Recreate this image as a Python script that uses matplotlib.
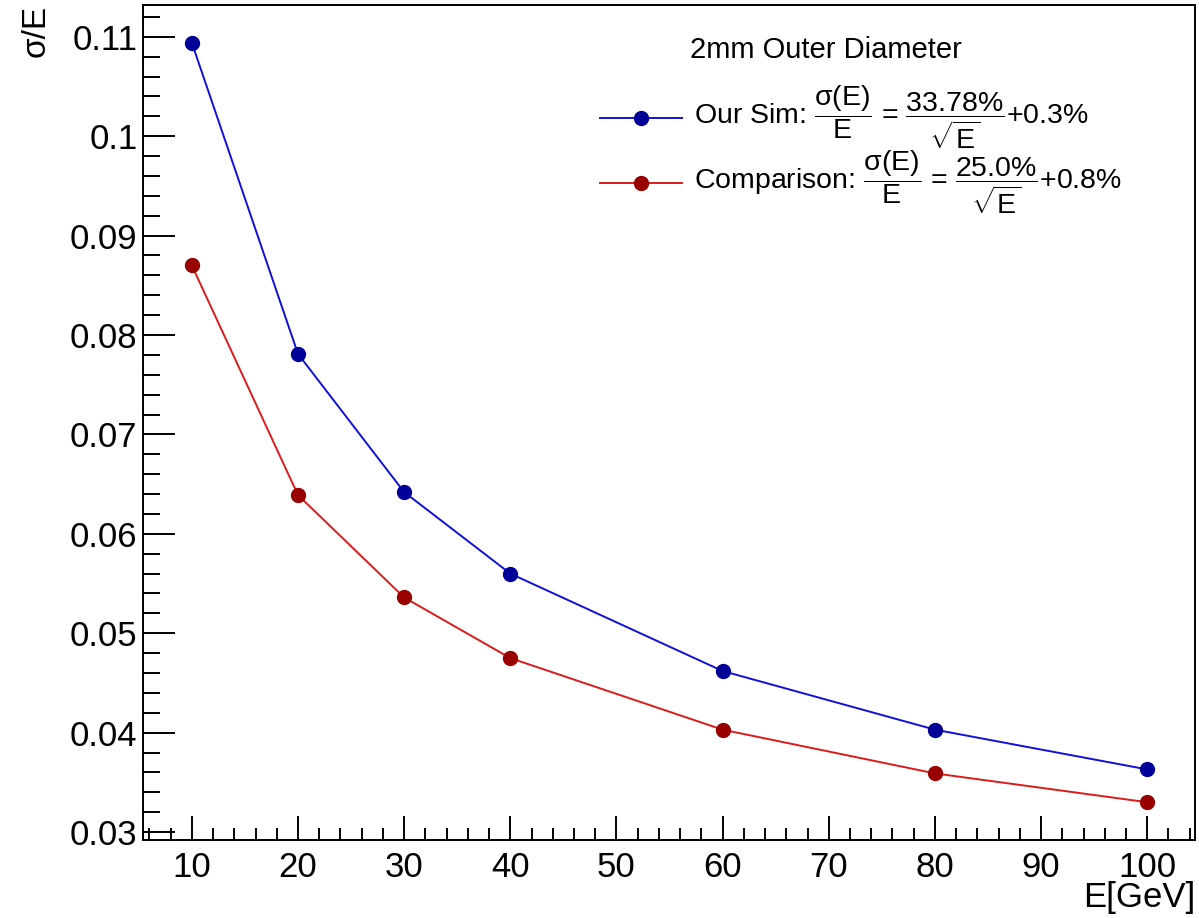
import matplotlib
matplotlib.use("Agg")
import matplotlib.pyplot as plt
from matplotlib.lines import Line2D
from matplotlib.ticker import MultipleLocator, FormatStrFormatter

# energies (GeV) and relative resolution sigma/E
energy = [10, 20, 30, 40, 60, 80, 100]
sim_res = [0.1094, 0.0781, 0.0642, 0.0560, 0.0462, 0.0403, 0.0363]
cmp_res = [0.0870, 0.0639, 0.0536, 0.0475, 0.0403, 0.0359, 0.0330]

legend_title = "2mm Outer Diameter"
sim_label = r"Our Sim: $\dfrac{\sigma(\mathrm{E})}{\mathrm{E}}$ = $\dfrac{\mathrm{33.78\%}}{\sqrt{\mathrm{E}}}$+0.3%"
cmp_label = r"Comparison: $\dfrac{\sigma(\mathrm{E})}{\mathrm{E}}$ = $\dfrac{\mathrm{25.0\%}}{\sqrt{\mathrm{E}}}$+0.8%"

plt.rcParams['font.family'] = ['Liberation Sans', 'DejaVu Sans']
plt.rcParams['mathtext.fontset'] = 'custom'
plt.rcParams['mathtext.rm'] = 'Liberation Sans'
plt.rcParams['mathtext.it'] = 'Liberation Sans'
plt.rcParams['mathtext.sf'] = 'Liberation Sans'

W, H = 1199, 918
fig = plt.figure(figsize=(W / 100, H / 100), dpi=100)
ax = fig.add_axes([143 / W, (H - 840) / H, (1195 - 143) / W, (840 - 5) / H])

blue_line, blue_mark = '#1010dd', '#000099'
red_line, red_mark = '#dd1a1a', '#990000'

ax.plot(energy, sim_res, color=blue_line, lw=1.4, marker='o', ms=10,
        mfc=blue_mark, mec=blue_mark)
ax.plot(energy, cmp_res, color=red_line, lw=1.4, marker='o', ms=10,
        mfc=red_mark, mec=red_mark)

ax.set_xlim(5.4, 104.5)
ax.set_ylim(0.0292, 0.1132)

ax.xaxis.set_major_locator(MultipleLocator(10))
ax.xaxis.set_minor_locator(MultipleLocator(2))
ax.yaxis.set_major_locator(MultipleLocator(0.01))
ax.yaxis.set_minor_locator(MultipleLocator(0.002))
ax.yaxis.set_major_formatter(FormatStrFormatter('%g'))

ax.tick_params(which='both', direction='in', top=False, right=False,
               labelsize=25, width=1.4)
ax.tick_params(axis='x', which='major', length=17, pad=8)
ax.tick_params(axis='x', which='minor', length=9)
ax.tick_params(axis='y', which='major', length=23, pad=4)
ax.tick_params(axis='y', which='minor', length=12)
for s in ax.spines.values():
    s.set_linewidth(1.4)

fig.text(36 / W, 1 - 5 / H, 'σ/E', rotation=90, va='top', ha='center', fontsize=24)
fig.text(1195 / W, 1 - 898 / H, 'E[GeV]', ha='right', va='center', fontsize=25)

# legend, drawn by hand
fig.text(690 / W, 1 - 50 / H, legend_title, ha='left', va='center', fontsize=21)
for y, lc, mc, lab in [(118, blue_line, blue_mark, sim_label),
                       (183, red_line, red_mark, cmp_label)]:
    yf = 1 - y / H
    fig.add_artist(Line2D([600 / W, 682 / W], [yf, yf], color=lc, lw=1.4))
    fig.add_artist(Line2D([641 / W], [yf], marker='o', ms=10, color=mc, lw=0))
    fig.text(694 / W, 1 - (y + 6) / H, lab, ha='left', va='baseline', fontsize=20.5)

fig.savefig('out.png', dpi=100)
